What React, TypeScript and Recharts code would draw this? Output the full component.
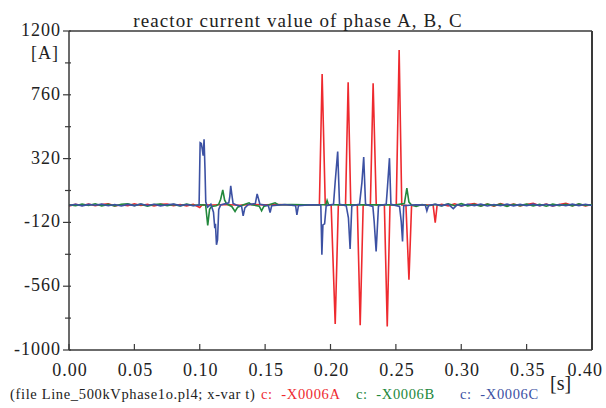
import React from 'react';
import { LineChart, Line, XAxis, YAxis, ReferenceLine } from 'recharts';

// time [s], current [A]
const phaseA: [number, number][] = [
  [0, -6], [0.005, 4], [0.01, -3], [0.015, 7], [0.02, -5], [0.025, 3], [0.03, 9], [0.035, -6], [0.04, 2], [0.045, -5],
  [0.05, 8], [0.055, -3], [0.06, 5], [0.065, -7], [0.07, 4], [0.075, 6], [0.08, -5], [0.085, 3], [0.09, -6], [0.095, 5],
  [0.1, -17], [0.102, 2], [0.11, 0], [0.12, 3], [0.13, -2], [0.14, 4], [0.15, 1], [0.16, 3], [0.17, 0], [0.18, 2],
  [0.1915, 1], [0.1936, 904], [0.196, 2], [0.2005, 0], [0.2036, -821], [0.206, 1],
  [0.2115, 2], [0.2135, 847], [0.2155, 1], [0.2205, 0], [0.2227, -830], [0.225, 1],
  [0.2305, 2], [0.2326, 840], [0.235, 0], [0.2412, 1], [0.2434, -837], [0.2455, 0],
  [0.2503, 3], [0.2525, 1069], [0.2545, 0], [0.2577, -2], [0.26, -516], [0.262, -3],
  [0.27, 2], [0.2785, -2], [0.2801, -121], [0.2815, -4], [0.285, 5], [0.29, -6], [0.295, 8], [0.3, -7],
  [0.305, 4], [0.31, 10], [0.315, -5], [0.32, 6], [0.325, -8], [0.33, 9], [0.335, -4], [0.34, 7], [0.345, -6],
  [0.35, 3], [0.355, 11], [0.36, -5], [0.365, 6], [0.37, -7], [0.375, 4], [0.38, 12], [0.385, -4], [0.39, 5],
  [0.395, -6], [0.4, 3],
];

const phaseB: [number, number][] = [
  [0, 2], [0.005, -5], [0.01, 6], [0.015, -3], [0.02, 8], [0.025, -6], [0.03, 4], [0.035, -7], [0.04, 5], [0.045, 9],
  [0.05, -4], [0.055, 6], [0.06, -8], [0.065, 3], [0.07, 7], [0.075, -5], [0.08, 4], [0.085, -6], [0.09, 6], [0.095, -3],
  [0.1, 2], [0.1045, 0], [0.1061, -140], [0.1075, -30], [0.109, -10], [0.1125, -5], [0.1145, 5], [0.116, 40],
  [0.1176, 104], [0.119, 35], [0.1205, 8], [0.1245, -10], [0.127, -45], [0.129, -15], [0.1335, 2], [0.1377, 15],
  [0.1395, 2], [0.1455, -8], [0.1473, -40], [0.149, -10], [0.1576, 15], [0.16, 2], [0.17, 3], [0.18, 1], [0.19, 2],
  [0.1965, 2], [0.1974, 31], [0.1985, 2], [0.21, 1], [0.22, 2], [0.23, 1], [0.24, 2], [0.25, 1],
  [0.2565, 10], [0.2584, 116], [0.26, 20], [0.262, 0], [0.2655, -10], [0.27, 3], [0.275, -5], [0.28, 4],
  [0.285, -6], [0.29, 8], [0.295, -5], [0.3, 9], [0.305, -6], [0.31, 4], [0.315, -8], [0.32, 7], [0.325, -4],
  [0.33, 6], [0.335, -9], [0.34, 5], [0.345, -4], [0.35, 7], [0.355, -6], [0.36, 5], [0.365, -8], [0.37, 6],
  [0.375, -4], [0.38, 5], [0.385, -7], [0.39, 8], [0.395, -3], [0.4, 4],
];

const phaseC: [number, number][] = [
  [0, -3], [0.005, 5], [0.01, -6], [0.015, 4], [0.02, -2], [0.025, 6], [0.03, -5], [0.035, 3], [0.04, -7], [0.045, 4],
  [0.05, -4], [0.055, 7], [0.06, -3], [0.065, 5], [0.07, -6], [0.075, 2], [0.08, 6], [0.085, -4], [0.09, 3], [0.095, -5],
  [0.0995, 0], [0.1003, 430], [0.1012, 425], [0.102, 380], [0.1026, 340], [0.1033, 454], [0.104, 250], [0.1046, 20],
  [0.106, -15], [0.1085, 5], [0.1105, -50], [0.1115, -160], [0.112, -130], [0.1128, -274], [0.1136, -240],
  [0.1145, -30], [0.116, 0], [0.1222, 15], [0.123, 60], [0.1237, 132], [0.1245, 75], [0.1255, 10], [0.128, 0],
  [0.132, -10], [0.1332, -75], [0.1345, -20], [0.137, 2], [0.1425, 10], [0.1439, 77], [0.145, 40], [0.146, 5],
  [0.1525, -5], [0.1538, -52], [0.155, -5], [0.165, 3], [0.1733, -5], [0.1743, -68], [0.1755, -5], [0.185, 2],
  [0.1926, 0], [0.1934, -343], [0.1942, -137], [0.1955, -130], [0.1967, -5], [0.2023, 5], [0.2036, 162],
  [0.2055, 368], [0.2069, 5], [0.212, -5], [0.2137, -88], [0.215, -304], [0.2163, -5], [0.2222, 5], [0.224, 153],
  [0.2254, 330], [0.2268, 5], [0.2324, -10], [0.2334, -114], [0.2349, -320], [0.2367, -5], [0.2426, 5],
  [0.2436, 127], [0.2451, 323], [0.2462, 5], [0.2528, -10], [0.2541, -114], [0.2551, -252], [0.256, -5],
  [0.265, 2], [0.2725, 0], [0.2737, -40], [0.275, -3], [0.28, 5], [0.285, -4], [0.29, 6], [0.2939, -25],
  [0.297, 3], [0.3, -6], [0.305, 5], [0.31, -4], [0.315, 6], [0.32, -7], [0.325, 3], [0.33, -5], [0.335, 6],
  [0.34, -6], [0.345, 4], [0.35, -5], [0.355, 6], [0.36, -4], [0.365, 5], [0.37, -6], [0.375, 3], [0.38, -5],
  [0.385, 6], [0.39, -4], [0.395, 5], [0.4, -3],
];

const xTicks = [0, 0.05, 0.1, 0.15, 0.2, 0.25, 0.3, 0.35, 0.4];
const yMajorTicks = [1200, 760, 320, -120, -560, -1000];
const yMinorTicks = [980, 540, 100, -340, -780];

const RED = '#ee2a2f';
const GREEN = '#22883c';
const BLUE = '#3c51a3';
const AXIS = '#3a3a3a';
const FONT = '"Liberation Serif", "Times New Roman", serif';

const toRows = (pts: [number, number][]) => pts.map(([t, v]) => ({ t, v }));

const YTick = (props: any) => {
  const { x, y, payload } = props;
  const major = yMajorTicks.includes(payload.value);
  return (
    <g>
      <line x1={x + 2} x2={x + 2 - (major ? 8 : 6)} y1={y} y2={y} stroke={AXIS} strokeWidth={1.2} />
      {major && (
        <text x={x - 8} y={y + 5} textAnchor="end" fontSize={18} letterSpacing={1} fontFamily={FONT} fill="#222">
          {payload.value}
        </text>
      )}
    </g>
  );
};

const XTick = (props: any) => {
  const { x, y, payload } = props;
  const last = payload.value === xTicks[xTicks.length - 1];
  return (
    <g>
      <line x1={x} x2={x} y1={y} y2={y - 6} stroke={AXIS} strokeWidth={1.2} />
      <text
        x={last ? x + 11 : x + 1}
        y={y + 26}
        textAnchor={last ? 'end' : 'middle'}
        fontSize={18}
        letterSpacing={1}
        fontFamily={FONT}
        fill="#222"
      >
        {payload.value.toFixed(2)}
      </text>
    </g>
  );
};

export default function App() {
  return (
    <div style={{ position: 'absolute', left: 0, top: 0, width: 606, height: 408, background: '#fff' }}>
      <LineChart width={606} height={408} margin={{ top: 31, right: 14, bottom: 27, left: 0 }}>
        <XAxis
          dataKey="t"
          type="number"
          domain={[0, 0.4]}
          ticks={xTicks}
          height={31}
          tickSize={0}
          tickMargin={0}
          tickLine={false}
          axisLine={{ stroke: AXIS, strokeWidth: 1.5 }}
          tick={<XTick />}
          interval={0}
        />
        <YAxis
          type="number"
          domain={[-1000, 1200]}
          ticks={[...yMajorTicks, ...yMinorTicks]}
          width={69}
          tickSize={0}
          tickMargin={0}
          tickLine={false}
          axisLine={{ stroke: AXIS, strokeWidth: 1.5 }}
          tick={<YTick />}
          interval={0}
        />
        <ReferenceLine y={1200} stroke={AXIS} strokeWidth={1.5} />
        <ReferenceLine x={0.4} stroke={AXIS} strokeWidth={2} />
        <Line data={toRows(phaseA)} dataKey="v" type="linear" stroke={RED} strokeWidth={1.6} dot={false} isAnimationActive={false} />
        <Line data={toRows(phaseB)} dataKey="v" type="linear" stroke={GREEN} strokeWidth={1.6} dot={false} isAnimationActive={false} />
        <Line data={toRows(phaseC)} dataKey="v" type="linear" stroke={BLUE} strokeWidth={1.6} dot={false} isAnimationActive={false} />
      </LineChart>
      <svg width={606} height={408} style={{ position: 'absolute', left: 0, top: 0, pointerEvents: 'none' }}>
        <text x={298} y={27} textAnchor="middle" fontSize={19} letterSpacing={1.1} fontFamily={FONT} fill="#222">
          reactor current value of phase A, B, C
        </text>
        <text x={59} y={59} textAnchor="end" fontSize={18} letterSpacing={1} fontFamily={FONT} fill="#222">[A]</text>
        <text x={550} y={390} fontSize={20} fontFamily={FONT} fill="#222">[s]</text>
        <text y={399} fontSize={14.5} letterSpacing={0.65} fontFamily={FONT} style={{ whiteSpace: 'pre' }}>
          <tspan x={10} fill="#222">(file Line_500kVphase1o.pl4; x-var t)</tspan>
          <tspan x={261} fill={RED}>c:  -X0006A</tspan>
          <tspan x={356} fill={GREEN}>c:  -X0006B</tspan>
          <tspan x={460} fill={BLUE}>c:  -X0006C</tspan>
        </text>
      </svg>
    </div>
  );
}
